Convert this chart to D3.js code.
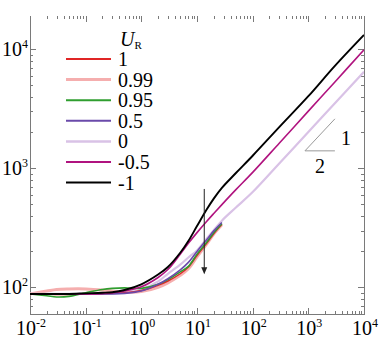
<!DOCTYPE html>
<html><head><meta charset="utf-8">
<script src="https://cdn.jsdelivr.net/npm/d3@7"></script>
<style>body{margin:0;background:#fff} svg{display:block} svg text{font-family:"Liberation Serif","Times New Roman",serif;}</style>
</head><body><svg id="c" width="380" height="338"></svg>
<script>
// ---- data ----
const xValues = [0.01, 0.02, 0.03, 0.05, 0.1, 0.2, 0.3, 0.5, 1, 2, 3, 5, 7, 10, 15, 20, 28, 50, 100, 300, 1000, 3000, 10000];
const seriesNames = ["1", "0.99", "0.95", "0.5", "0", "-0.5", "-1"];
const seriesColors = ["#e02525", "#f5aeae", "#2f9e2f", "#6a4aaa", "#d9c2e6", "#b0137f", "#000000"];
const seriesWidths = [1.5, 3, 1.6, 1.6, 2.2, 1.6, 1.9];
const yR1   = [88, 88, 87, 87, 88, 88, 89, 90, 94, 104, 113, 130, 148, 185, 235, 282, 338];
const yR099 = [88, 93, 96, 97, 97, 95, 93, 91, 92, 100, 109, 126, 143, 180, 232, 280, 335];
const yR095 = [88, 85, 83, 84, 90, 96, 98, 99, 98, 106, 116, 135, 150, 190, 240, 288, 343];
const yR05  = [88, 88, 88, 88, 88, 88, 88, 89, 93, 106, 118, 140, 162, 200, 252, 298, 350];
const yR0   = [88, 88, 88, 88, 88, 89, 89, 90, 96, 112, 130, 155, 178, 204, 257, 302, 363, 468, 631, 1096, 2018, 3516, 6457];
const yRm05 = [88, 88, 88, 88, 88, 89, 90, 93, 101, 121, 141, 190, 234, 288, 359, 417, 495, 661, 923, 1622, 3020, 5309, 9886];
const yRm1  = [88, 88, 88, 88, 89, 90, 91, 95, 106, 128, 148, 195, 245, 327, 452, 556, 684, 912, 1274, 2213, 4027, 7244, 13183];
const seriesY = [yR1, yR099, yR095, yR05, yR0, yRm05, yRm1];
const drawOrder = [1, 4, 0, 2, 3, 5, 6];
const xExponents = ["-2", "-1", "0", "1", "2", "3", "4"];
const yExponents = ["2", "3", "4"];
// slope triangle (data coords) and arrow
const slopeX = [870, 3000];
const slopeY0 = 1400;
const arrowX = 13.5, arrowY = [670, 129];

// ---- layout ----
const L = 30, R = 364, T = 16, B = 314;
const svg = d3.select("#c");
const x = d3.scaleLog().domain([0.01, 10000]).range([L, R]);
const y = d3.scaleLog().domain([59.7, 19000]).range([B, T]);
const axisColor = "#7a7a7a";

svg.append("defs").append("clipPath").attr("id", "clip")
  .append("rect").attr("x", L).attr("y", T).attr("width", R - L).attr("height", B - T);

// ticks
const xMajor = xExponents.map(e => Math.pow(10, +e));
const xMinor = [];
for (let i = 0; i < xMajor.length - 1; i++) for (let k = 2; k <= 9; k++) xMinor.push(xMajor[i] * k);
const yMinor = [];
for (let p = 1; p <= 4; p++) for (let k = 2; k <= 9; k++) { const v = k * Math.pow(10, p); if (v >= 59.7 && v <= 19000) yMinor.push(v); }
const yMajor = yExponents.map(e => Math.pow(10, +e));

const g = svg.append("g").attr("stroke", axisColor).attr("stroke-width", 1).attr("shape-rendering", "crispEdges");
g.append("line").attr("x1", L + 0.5).attr("x2", L + 0.5).attr("y1", T).attr("y2", B);
g.append("line").attr("x1", L).attr("x2", R + 1).attr("y1", B + 0.5).attr("y2", B + 0.5);
g.append("line").attr("x1", R + 0.5).attr("x2", R + 0.5).attr("y1", T).attr("y2", B);
[[xMajor, 6], [xMinor, 3]].forEach(([arr, len]) => {
  arr.forEach(v => {
    const px = Math.round(x(v)) + 0.5;
    g.append("line").attr("x1", px).attr("x2", px).attr("y1", B).attr("y2", B - len);
    g.append("line").attr("x1", px).attr("x2", px).attr("y1", T).attr("y2", T + len);
  });
});
[[yMajor, 6], [yMinor, 3]].forEach(([arr, len]) => {
  arr.forEach(v => {
    const py = Math.round(y(v)) + 0.5;
    g.append("line").attr("y1", py).attr("y2", py).attr("x1", L).attr("x2", L + len);
    g.append("line").attr("y1", py).attr("y2", py).attr("x1", R).attr("x2", R - len);
  });
});

// tick labels
xExponents.forEach((e, i) => {
  const t = svg.append("text").attr("x", x(xMajor[i]) + 1).attr("y", 335)
    .attr("text-anchor", "middle").attr("font-size", 20).attr("fill", "#000");
  t.append("tspan").text("10");
  t.append("tspan").attr("dy", -8).attr("font-size", 12).text(e);
});
yExponents.forEach((e, i) => {
  const t = svg.append("text").attr("x", 28).attr("y", y(yMajor[i]) + 7)
    .attr("text-anchor", "end").attr("font-size", 20).attr("fill", "#000");
  t.append("tspan").text("10");
  t.append("tspan").attr("dy", -8).attr("font-size", 12).text(e);
});

// lines
const line = d3.line().x(d => x(d[0])).y(d => y(d[1])).curve(d3.curveCatmullRom.alpha(0.5));
const plot = svg.append("g").attr("clip-path", "url(#clip)");
drawOrder.forEach(i => {
  const pts = seriesY[i].map((v, j) => [xValues[j], v]);
  plot.append("path").attr("d", line(pts)).attr("fill", "none")
    .attr("stroke", seriesColors[i]).attr("stroke-width", seriesWidths[i]).attr("stroke-linejoin", "round");
});

// slope triangle
const slopeY1 = slopeY0 * Math.sqrt(slopeX[1] / slopeX[0]);
svg.append("line").attr("x1", x(slopeX[0])).attr("y1", y(slopeY0)).attr("x2", x(slopeX[1])).attr("y2", y(slopeY1))
  .attr("stroke", "#999").attr("stroke-width", 1);
svg.append("line").attr("x1", x(slopeX[0])).attr("y1", y(slopeY0)).attr("x2", x(slopeX[1])).attr("y2", y(slopeY0))
  .attr("stroke", "#999").attr("stroke-width", 1);
svg.append("text").attr("x", x(slopeX[1]) + 6).attr("y", y(Math.sqrt(slopeY0 * slopeY1)) + 10)
  .attr("font-size", 20).text("1");
svg.append("text").attr("x", x(Math.sqrt(slopeX[0] * slopeX[1]))).attr("y", y(slopeY0) + 22)
  .attr("text-anchor", "middle").attr("font-size", 20).text("2");

// arrow
svg.append("line").attr("x1", x(arrowX)).attr("x2", x(arrowX)).attr("y1", y(arrowY[0])).attr("y2", y(arrowY[1]) - 5)
  .attr("stroke", "#222").attr("stroke-width", 1);
svg.append("path").attr("d", d3.line()([[x(arrowX) - 3, y(arrowY[1]) - 7], [x(arrowX) + 3, y(arrowY[1]) - 7], [x(arrowX), y(arrowY[1])]]) + "Z")
  .attr("fill", "#222");

// legend
const lg = svg.append("g");
const title = lg.append("text").attr("x", 120).attr("y", 46).attr("font-size", 20);
title.append("tspan").attr("font-style", "italic").text("U");
title.append("tspan").attr("font-size", 11).attr("dy", 3).text("R");
seriesNames.forEach((n, i) => {
  const yy = 59 + i * 20.6;
  lg.append("line").attr("x1", 66).attr("x2", 111).attr("y1", yy).attr("y2", yy)
    .attr("stroke", seriesColors[i]).attr("stroke-width", i === 1 ? 3 : (i === 4 ? 2.5 : 2));
  lg.append("text").attr("x", 118).attr("y", yy + 7).attr("font-size", 20).text(n);
});
</script></body></html>
